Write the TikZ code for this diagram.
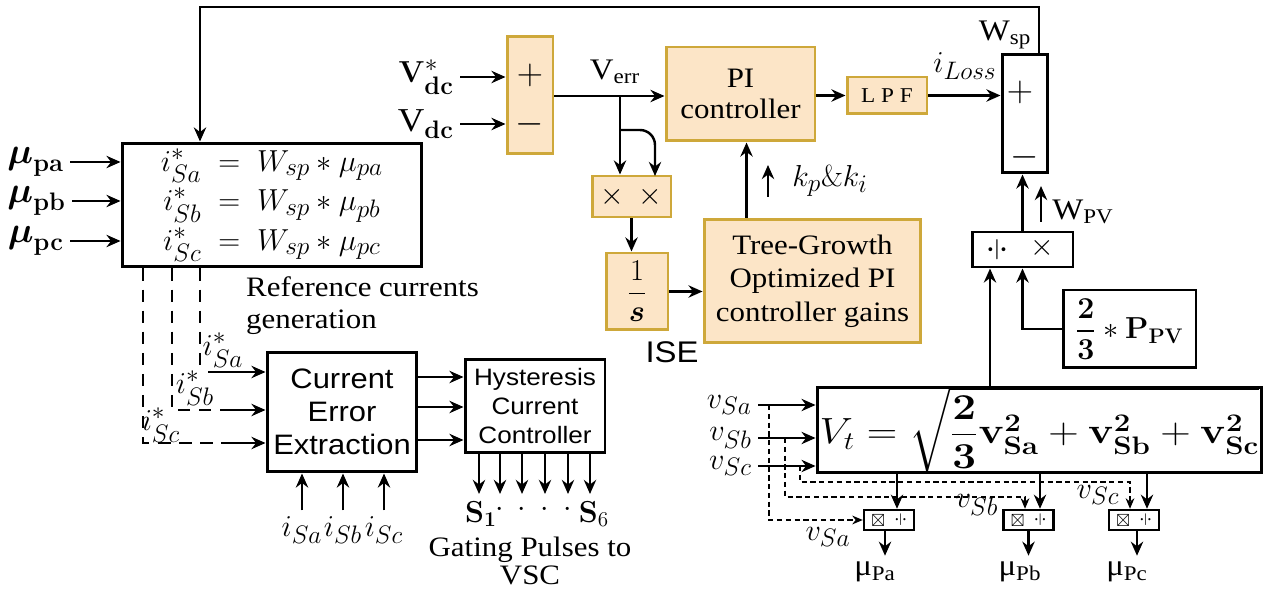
\documentclass[tikz,border=0pt]{standalone}
\usepackage{amsmath}
\usepackage{amssymb}
\usepackage{graphicx}
\usepackage[no-math]{fontspec}
\setmainfont{Liberation Serif}[FakeStretch=1.1]
\setsansfont{Liberation Sans}[FakeStretch=1.1]
\usetikzlibrary{arrows.meta, positioning, calc}
\definecolor{peach}{RGB}{252,229,199}
\definecolor{ochre}{RGB}{206,168,58}
\tikzstyle{blk} = [draw, line width=1.7pt, inner sep=0pt, align=center]
\tikzstyle{obox} = [draw=ochre, fill=peach, line width=1.7pt, inner sep=0pt, align=center]
\tikzstyle{mbox} = [draw, line width=1.4pt, minimum width=1cm, minimum height=0.4cm, inner sep=0pt, font=\fontsize{10}{10}\selectfont]
\tikzstyle{arrow} = [line width=1.4pt,->,>={Stealth[length=8pt,width=7pt]}]
\tikzstyle{dline} = [line width=0.9pt, dash pattern=on 7pt off 5pt]
\tikzstyle{tap} = [line width=0.8pt, densely dashed,->,>={Stealth[length=6pt,width=5pt]}]

\begin{document}
\begin{tikzpicture}[x=0.02cm, y=-0.02cm, every node/.style={font=\fontsize{17}{20}\selectfont}]
\useasboundingbox (0,0) rectangle (1271,594);

% Reference currents generation
\node[blk, minimum width=6cm, minimum height=2.48cm, font=\fontsize{19}{22.5}\selectfont] (refgen) at (272,205)
  {$i^*_{Sa}\;=\;W_{sp}\ast\mu_{pa}$\\$i^*_{Sb}\;=\;W_{sp}\ast\mu_{pb}$\\$i^*_{Sc}\;=\;W_{sp}\ast\mu_{pc}$};
\node[anchor=east, font=\fontsize{21}{22}\selectfont] (mupa) at (70,162) {$\boldsymbol{\mu}_{\mathbf{pa}}$};
\node[anchor=east, font=\fontsize{21}{22}\selectfont] (mupb) at (72,201) {$\boldsymbol{\mu}_{\mathbf{pb}}$};
\node[anchor=east, font=\fontsize{21}{22}\selectfont] (mupc) at (70,241) {$\boldsymbol{\mu}_{\mathbf{pc}}$};
\foreach \n in {mupa,mupb,mupc}
  \draw[arrow] (\n.east) -- (\n.east -| refgen.west);
\node[anchor=north west, align=left, font=\fontsize{16}{18}\selectfont] (refname) at (240,271) {Reference currents\\generation};

% Current error extraction
\node[blk, minimum width=3cm, minimum height=2.4cm, font=\sffamily\fontsize{16}{18.7}\selectfont] (cee) at (342,412) {Current\\Error\\Extraction};
\coordinate (da) at (200,372);
\coordinate (db) at (172,410);
\coordinate (dc) at (143,443);
\draw[dline] (refgen.south -| da) -- ([yshift=0.12cm]da);
\draw[arrow] ([xshift=0.16cm]da) -- (da -| cee.west);
\draw[dline] (refgen.south -| db) |- ([xshift=-0.8cm]db -| cee.west);
\draw[arrow] ([xshift=-0.8cm]db -| cee.west) -- (db -| cee.west);
\draw[dline] (refgen.south -| dc) |- ([xshift=-0.8cm]dc -| cee.west);
\draw[arrow] ([xshift=-0.8cm]dc -| cee.west) -- (dc -| cee.west);
\node[font=\fontsize{19}{20}\selectfont] (ira) at (223,350) {$i^*_{Sa}$};
\node[font=\fontsize{19}{20}\selectfont] (irb) at (195,388) {$i^*_{Sb}$};
\node[font=\fontsize{19}{20}\selectfont] (irc) at (161,425) {$i^*_{Sc}$};

\node[font=\fontsize{19}{20}\selectfont] (isa) at (302,530) {$i_{Sa}$};
\node[font=\fontsize{19}{20}\selectfont] (isb) at (343,530) {$i_{Sb}$};
\node[font=\fontsize{19}{20}\selectfont] (isc) at (384,530) {$i_{Sc}$};
\foreach \n in {isa,isb,isc}
  \draw[arrow] (\n.north) -- (\n.north |- cee.south);

% Hysteresis current controller
\node[blk, minimum width=2.8cm, minimum height=1.86cm, font=\sffamily\fontsize{13.5}{16.4}\selectfont] (hcc) at (535,406) {Hysteresis\\Current\\Controller};
\foreach \d in {0.7,0.1,-0.56}
  \draw[arrow] ([yshift=\d cm]cee.east) -- ([yshift=\d cm]cee.east -| hcc.west);
\foreach \d in {-1.12,-0.7,-0.26,0.2,0.66,1.1}
  \draw[arrow] ([xshift=\d cm]hcc.south) -- ++(0,40);
\node (s1) at (481,514) {$\mathbf{S_1}$};
\foreach \x in {500,522,545,568}
  \node (dot\x) at (\x,510) {$\cdot$};
\node (s6) at (594,514) {$\mathbf{S}_6$};
\node[align=center, font=\fontsize{16}{16}\selectfont] (gating) at (530,561) {Gating Pulses to\\VSC};

% DC link voltage loop
\node[obox, minimum width=0.92cm, minimum height=2.36cm] (sum1) at (530,95) {};
\node[font=\fontsize{20}{20}\selectfont] (p1) at (530,75) {$+$};
\node[font=\fontsize{20}{20}\selectfont] (m1) at (530,124) {$-$};
\node[anchor=east, font=\fontsize{19}{20}\selectfont] (vdcref) at (460,77) {$\mathbf{V}^{*}_{\mathbf{dc}}$};
\node[anchor=east, font=\fontsize{19}{20}\selectfont] (vdc) at (460,124) {V$_{\mathbf{dc}}$};
\draw[arrow] (vdcref.east) -- (vdcref.east -| sum1.west);
\draw[arrow] (vdc.east) -- (vdc.east -| sum1.west);

\node[obox, minimum width=2.98cm, minimum height=1.88cm, font=\fontsize{16}{17.5}\selectfont] (pi) at (740.5,94) {PI\\controller};
\node[obox, minimum width=1.6cm, minimum height=0.74cm, font=\fontsize{12}{14}\selectfont] (lpf) at (887,95.5) {L P F};
\node[obox, minimum width=1.58cm, minimum height=0.82cm] (mult) at (631.5,196.5) {$\times$\hspace{0.3cm}$\times$};
\node[obox, minimum width=1.24cm, minimum height=1.54cm, font=\fontsize{19}{20}\selectfont] (integ) at (637,291.5) {$\dfrac{1}{\boldsymbol{s}}$};
\node[obox, minimum width=4.34cm, minimum height=2.48cm, font=\fontsize{16}{19}\selectfont] (tgo) at (812.5,281) {Tree-Growth\\Optimized PI\\controller gains};
\node[font=\sffamily\fontsize{17}{20}\selectfont] (ise) at (672,352) {ISE};

% W_sp summation
\node[blk, minimum width=0.9cm, minimum height=2.38cm] (sum2) at (1024.5,113.5) {};
\node[font=\fontsize{20}{20}\selectfont] (p2) at (1020,92) {$+$};
\node[font=\fontsize{20}{20}\selectfont] (m2) at (1025,157) {$-$};
\node (wsp) at (1005,35) {W$_{\text{sp}}$};

% feedback of W_sp
\coordinate (fb) at (200,7);
\draw[arrow] ([xshift=0.29cm]sum2.north) |- (fb) -- (fb |- refgen.north);

\coordinate (verr) at (620,96);
\coordinate (vbr) at (620,130);
\coordinate (mx2) at (655,176);
\draw[arrow] (sum1.east |- verr) -- (verr -| pi.west);
\draw[arrow] (verr) -- (verr |- mult.north);
\draw[arrow, rounded corners=0.3cm] (vbr) -| (mx2);
\node (verrlbl) at (615,72) {V$_{\text{err}}$};
\draw[arrow] (mult.south) -- (mult.south |- integ.north);
\draw[arrow] (integ.east) -- (integ.east -| tgo.west);
\draw[arrow] ([xshift=-1.32cm]tgo.north) -- ([xshift=-1.32cm]tgo.north |- pi.south);
\coordinate (kpa) at (768,197);
\draw[arrow] (kpa) -- ++(0,-32);
\node[font=\fontsize{19}{20}\selectfont] (kpki) at (830,181) {$k_p\&k_i$};
\draw[arrow] (lpf.west -| pi.east) -- (lpf.west);
\draw[arrow] (lpf.east) -- (lpf.east -| sum2.west);
\node[font=\fontsize{19}{20}\selectfont] (iloss) at (965,66) {$i_{Loss}$};

\node[blk, minimum width=2.02cm, minimum height=0.7cm] (div) at (1022.5,249.5) {};
\node (divs) at (997,250) {\rotatebox{90}{$\div$}};
\node (divx) at (1042,248) {$\times$};
\draw[arrow] (div.north) -- (div.north |- sum2.south);
\coordinate (wpva) at (1041,222);
\draw[arrow] (wpva) -- ++(0,-36);
\node (wpv) at (1083,212) {W$_{\text{PV}}$};

\node[blk, minimum width=2.66cm, minimum height=1.56cm, font=\fontsize{18}{20}\selectfont] (ppv) at (1129.5,329) {$\dfrac{\mathbf{2}}{\mathbf{3}}\ast\mathbf{P_{PV}}$};
\draw[arrow] (ppv.west) -| (div.south);

% terminal voltage
\node[blk, minimum width=8.9cm, minimum height=1.72cm, font=\fontsize{20}{22}\selectfont] (vt) at (1039.5,430)
  {\scalebox{1.16}[1]{$V_t=\sqrt{\dfrac{\mathbf{2}}{\mathbf{3}}\mathbf{v^2_{Sa}}+\mathbf{v^2_{Sb}}+\mathbf{v^2_{Sc}}}$}};
\draw[arrow] ([xshift=-0.65cm]div.south |- vt.north) -- ([xshift=-0.65cm]div.south);
\node[anchor=east, font=\fontsize{19}{20}\selectfont] (vsa) at (758,405) {$v_{Sa}$};
\node[anchor=east, font=\fontsize{19}{20}\selectfont] (vsb) at (758,438) {$v_{Sb}$};
\node[anchor=east, font=\fontsize{19}{20}\selectfont] (vsc) at (758,466) {$v_{Sc}$};
\foreach \n in {vsa,vsb,vsc}
  \draw[arrow] (\n.east) -- (\n.east -| vt.west);

% unit templates
\node[mbox] (ma) at (889,520) {$\boxtimes$\hspace{0.2cm}\rotatebox{90}{$\div$}};
\node[mbox] (mb) at (1028.5,520) {$\boxtimes$\hspace{0.2cm}\rotatebox{90}{$\div$}};
\node[mbox] (mc) at (1134,520) {$\boxtimes$\hspace{0.2cm}\rotatebox{90}{$\div$}};
\draw[arrow] ([xshift=0.16cm]ma.north |- vt.south) -- ([xshift=0.16cm]ma.north);
\draw[arrow] ([xshift=0.23cm]mb.north |- vt.south) -- ([xshift=0.23cm]mb.north);
\draw[arrow] ([xshift=0.26cm]mc.north |- vt.south) -- ([xshift=0.26cm]mc.north);
\coordinate (ta) at (769,405);
\coordinate (tb) at (785,438);
\coordinate (tb2) at (1025,497);
\coordinate (tc) at (800,466);
\coordinate (tc2) at (1130,482);
\draw[tap] (ta) |- (ma.west);
\draw[tap] (tb) |- (tb2) -- (tb2 |- mb.north);
\draw[tap] (tc) |- (tc2) -- (tc2 |- mc.north);
\node[font=\fontsize{19}{20}\selectfont] (vsa2) at (828,537) {$v_{Sa}$};
\node[font=\fontsize{19}{20}\selectfont] (vsb2) at (977,505) {$v_{Sb}$};
\node[font=\fontsize{19}{20}\selectfont] (vsc2) at (1098,495) {$v_{Sc}$};
\node (outa) at (875,572) {μ\textsubscript{Pa}};
\node (outb) at (1020,572) {μ\textsubscript{Pb}};
\node (outc) at (1127,572) {μ\textsubscript{Pc}};
\draw[arrow] ([xshift=-0.08cm]ma.south) -- ([xshift=-0.08cm]ma.south |- outa.north);
\draw[arrow] (mb.south) -- (mb.south |- outb.north);
\draw[arrow] ([xshift=0.06cm]mc.south) -- ([xshift=0.06cm]mc.south |- outc.north);
\end{tikzpicture}
\end{document}
